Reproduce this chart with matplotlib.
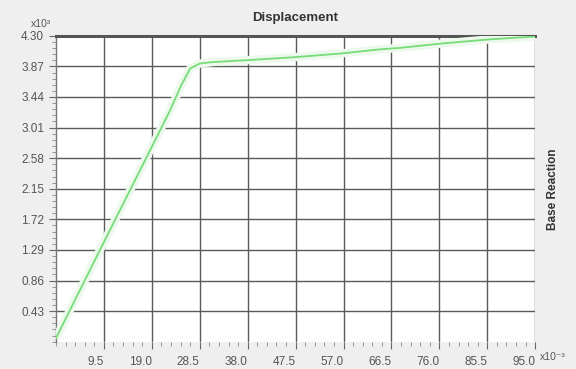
import matplotlib.pyplot as plt
from matplotlib.ticker import MultipleLocator, FixedLocator

plt.rcParams['font.family'] = ['Liberation Sans', 'DejaVu Sans']

# pushover curve: displacement (x10^-3) vs base reaction (x10^3)
disp = [0.0, 9.5, 19.0, 22.6, 24.8, 26.6, 28.5, 31.0, 38.5, 47.4, 56.3, 64.3, 68.2, 76.2, 86.0, 95.0]
base = [0.05, 1.40, 2.74, 3.25, 3.60, 3.84, 3.91, 3.93, 3.96, 4.00, 4.05, 4.11, 4.13, 4.19, 4.25, 4.29]

xticks = [9.5, 19.0, 28.5, 38.0, 47.5, 57.0, 66.5, 76.0, 85.5, 95.0]
yticks = [0.43, 0.86, 1.29, 1.72, 2.15, 2.58, 3.01, 3.44, 3.87, 4.30]
xlabels = ['9.5', '19.0', '28.5', '38.0', '47.5', '57.0', '66.5', '76.0', '85.5', '95.0']
ylabels = ['0.43', '0.86', '1.29', '1.72', '2.15', '2.58', '3.01', '3.44', '3.87', '4.30']

fig = plt.figure(figsize=(5.76, 3.69), dpi=100, facecolor='#efefef')
ax = fig.add_axes([0.0972, 0.074, 0.832, 0.829])
ax.set_facecolor('white')

ax.set_xlim(0, 95.0)
ax.set_ylim(0, 4.30)

ax.xaxis.set_major_locator(FixedLocator(xticks))
ax.yaxis.set_major_locator(FixedLocator(yticks))
ax.xaxis.set_minor_locator(MultipleLocator(1.9))
ax.yaxis.set_minor_locator(MultipleLocator(0.086))

ax.grid(which='major', color='#5a5a5a', linewidth=1.0)
ax.set_axisbelow(True)

# soft halo under the curve, then the curve itself
ax.plot(disp, base, color='#ecf9ec', linewidth=6, solid_capstyle='butt', zorder=3)
ax.plot(disp, base, color='#78dc78', linewidth=1.3, zorder=4)

for s in ['right', 'bottom']:
    ax.spines[s].set_visible(False)
ax.spines['top'].set_color('#555555')
ax.spines['top'].set_linewidth(2.2)
ax.spines['left'].set_color('#777777')
ax.spines['left'].set_linewidth(1.0)

ax.tick_params(which='major', direction='out', length=5, width=0.8, color='#666666',
               labelsize=8.5, labelcolor='#555555')
ax.tick_params(which='minor', direction='out', length=3, width=0.6, color='#888888')
ax.set_xticklabels(xlabels, ha='right')
ax.set_yticklabels(ylabels)
ax.tick_params(axis='x', pad=5)

fig.text(0.072, 0.922, 'x10³', fontsize=7.5, color='#555555', ha='center', va='bottom')
fig.text(0.937, 0.033, 'x10⁻³', fontsize=7.5, color='#555555', ha='left', va='center')

fig.text(0.513, 0.951, 'Displacement', fontsize=9.5, fontweight='bold', color='#333333',
         ha='center', va='center')
fig.text(0.960, 0.488, 'Base Reaction', fontsize=8.5, fontweight='bold', color='#333333',
         rotation=90, ha='center', va='center')

fig.savefig('out.png', dpi=100, facecolor=fig.get_facecolor())
